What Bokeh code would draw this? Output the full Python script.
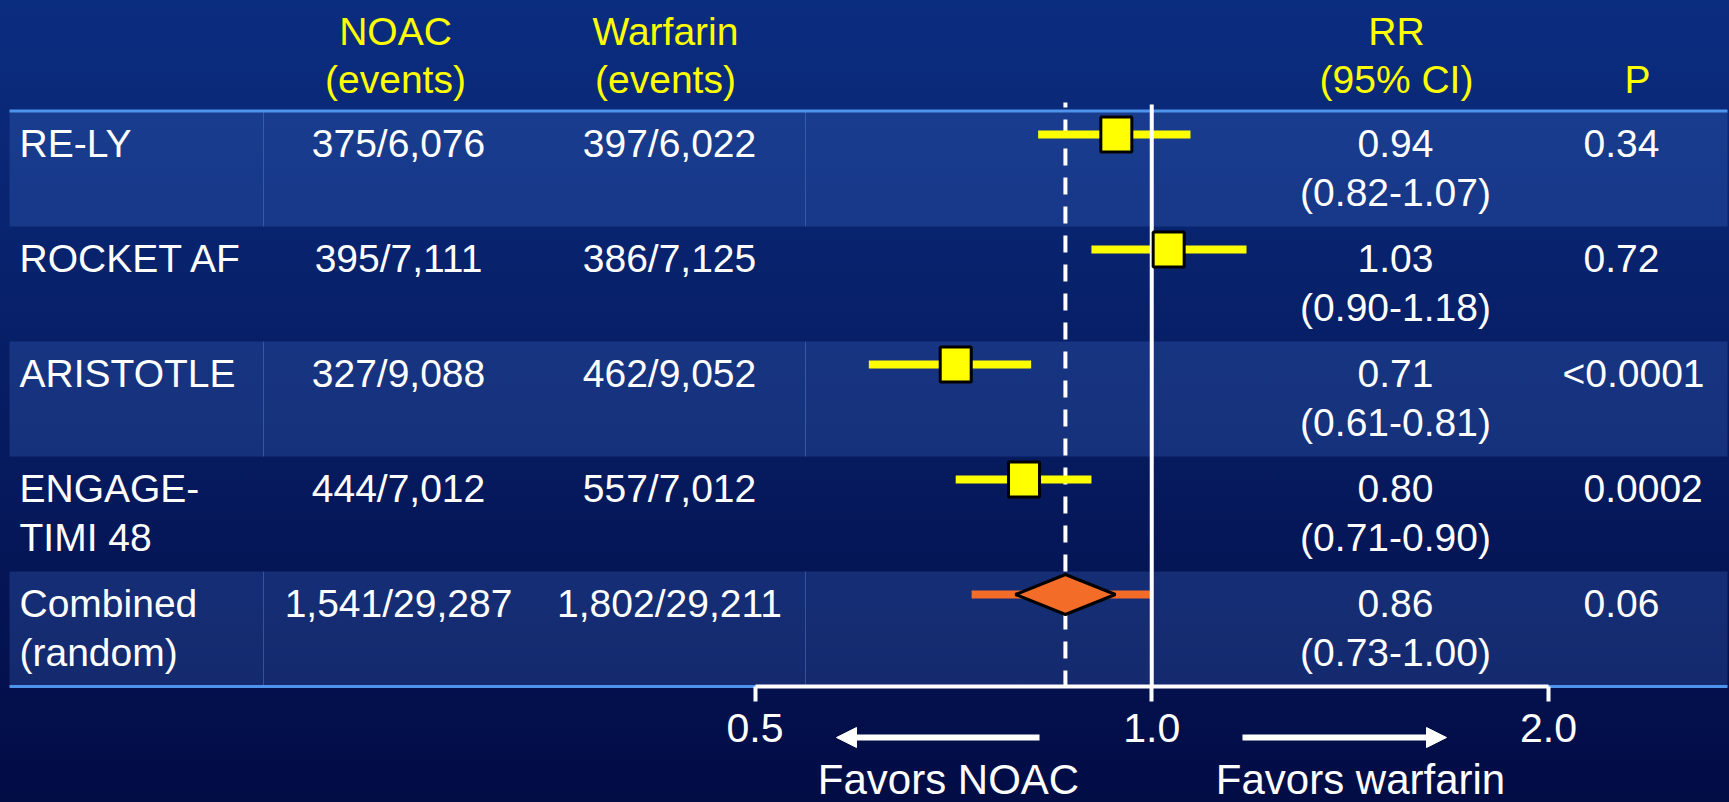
from bokeh.plotting import figure
from bokeh.models import (Range1d, LogScale, LogAxis, FixedTicker,
                          PrintfTickFormatter, Arrow, NormalHead)
from bokeh.core.properties import value
from bokeh.embed import file_html
from bokeh.resources import INLINE

# ---------------- data ----------------
trials = ["RE-LY", "ROCKET AF", "ARISTOTLE", "ENGAGE-\nTIMI 48", "Combined\n(random)"]
noac_events = ["375/6,076", "395/7,111", "327/9,088", "444/7,012", "1,541/29,287"]
warfarin_events = ["397/6,022", "386/7,125", "462/9,052", "557/7,012", "1,802/29,211"]
rr = [0.94, 1.03, 0.71, 0.80, 0.86]
ci_low = [0.82, 0.90, 0.61, 0.71, 0.73]
ci_high = [1.07, 1.18, 0.81, 0.90, 1.00]
p_values = ["0.34", "0.72", "<0.0001", "0.0002", "0.06"]
header_noac = ["NOAC", "(events)"]
header_warf = ["Warfarin", "(events)"]
header_rr = ["RR", "(95% CI)"]
header_p = ["", "P"]
axis_ticks = [0.5, 1.0, 2.0]
direction_labels = ["Favors NOAC", "Favors warfarin"]

# ---------------- layout ----------------
W, H = 1729, 802
FONT = "Liberation Sans"
YELLOW = "#ffff00"
ORANGE = "#f36c28"
LINE_BLUE = "#4f94ec"
X_ONE = 1151.25          # screen x of RR = 1
K = 396.75               # pixels per doubling of RR
ROW_TOP0, ROW_H = 111, 115
LEFT, RIGHT = 9, 1727
COL_LABEL, COL_NOAC, COL_WARF, COL_RR, COL_P = 19, 398, 669, 1395, 1583
LT_W = 21                # width of a leading "<" hanging left of the P column
HDR_NOAC, HDR_WARF, HDR_RR, HDR_P = 395, 665, 1396, 1637
DY = -13                 # baseline correction
HDR_B1, HDR_B2 = 43.5 + DY, 91.5 + DY
TABLE_BOTTOM = ROW_TOP0 + ROW_H * len(trials)

p = figure(width=W, height=H, x_range=Range1d(0, W), y_range=Range1d(H, 0),
           output_backend="svg", toolbar_location=None,
           x_axis_location=None, y_axis_location=None, min_border=0,
           background_fill_color=None, border_fill_color=None,
           outline_line_color=None)
p.grid.visible = False
p.extra_x_ranges = {"rr": Range1d(2 ** (-X_ONE / K), 2 ** ((W - X_ONE) / K))}
p.extra_x_scales = {"rr": LogScale()}

n = len(trials)
tops = [ROW_TOP0 + i * ROW_H for i in range(n)]
light = [i for i in range(n) if i % 2 == 0]

# row bands
p.quad(left=LEFT, right=RIGHT, top=[tops[i] for i in light],
       bottom=[tops[i] + ROW_H for i in light],
       fill_color="#4678d2", fill_alpha=0.25, line_color=None)
for xd in (263, 805):
    p.segment(x0=xd, x1=xd, y0=[tops[i] for i in light],
              y1=[tops[i] + ROW_H for i in light],
              line_color="#5a82cc", line_alpha=0.45, line_width=1)
# horizontal rules
p.segment(x0=LEFT, x1=RIGHT, y0=[ROW_TOP0 - 0.5, TABLE_BOTTOM],
          y1=[ROW_TOP0 - 0.5, TABLE_BOTTOM], line_color=LINE_BLUE, line_width=3)


def txt(xs, ys, texts, color="white", align="center", size="39px"):
    p.text(x=xs, y=ys, text=texts, text_color=color, text_font=value(FONT),
           text_font_size=size, text_align=align, text_baseline="alphabetic")


# headers
for xh, lines in ((HDR_NOAC, header_noac), (HDR_WARF, header_warf),
                  (HDR_RR, header_rr), (HDR_P, header_p)):
    txt([xh, xh], [HDR_B1, HDR_B2], lines, color=YELLOW)

# table body
b1 = [t + 45 + DY for t in tops]
b2 = [t + 94 + DY for t in tops]
line1 = [s.split("\n")[0] for s in trials]
line2 = [s.split("\n")[1] if "\n" in s else "" for s in trials]
txt([COL_LABEL] * n, b1, line1, align="left")
txt([COL_LABEL] * n, b2, line2, align="left")
txt([COL_NOAC] * n, b1, noac_events)
txt([COL_WARF] * n, b1, warfarin_events)
txt([COL_RR] * n, b1, [f"{v:.2f}" for v in rr])
txt([COL_RR] * n, b2, [f"({lo:.2f}-{hi:.2f})" for lo, hi in zip(ci_low, ci_high)])
txt([COL_P - (LT_W if s.startswith("<") else 0) for s in p_values], b1,
    p_values, align="left")

# forest plot
my = [t + 23 for t in tops]
pooled = n - 1
p.segment(x0=[rr[pooled]], x1=[rr[pooled]], y0=[ROW_TOP0 - 9], y1=[TABLE_BOTTOM],
          x_range_name="rr", line_color="white", line_width=4,
          line_dash="17 12", line_dash_offset=12)
colors = [YELLOW] * pooled + [ORANGE]
p.segment(x0=ci_low, x1=ci_high, y0=my, y1=my, x_range_name="rr",
          line_color=colors, line_width=8)
p.segment(x0=[1.0], x1=[1.0], y0=[ROW_TOP0 - 7], y1=[TABLE_BOTTOM],
          x_range_name="rr", line_color="white", line_width=4)
p.rect(x=rr[:pooled], y=my[:pooled], width=31, height=35,
       width_units="screen", height_units="screen", x_range_name="rr",
       fill_color=YELLOW, line_color="black", line_width=3)
hw, hh = 50, 20
d = 2 ** (hw / K)
p.patch(x=[rr[pooled] / d, rr[pooled], rr[pooled] * d, rr[pooled]],
        y=[my[pooled], my[pooled] - hh, my[pooled], my[pooled] + hh],
        x_range_name="rr", fill_color=ORANGE, line_color="black", line_width=3)

# axis
ax = LogAxis(x_range_name="rr", fixed_location=TABLE_BOTTOM, bounds=(0.5, 2.0),
             ticker=FixedTicker(ticks=axis_ticks, minor_ticks=[]),
             formatter=PrintfTickFormatter(format="%.1f"))
ax.axis_line_color = "white"
ax.axis_line_width = 4
ax.major_tick_line_color = "white"
ax.major_tick_line_width = 4
ax.major_tick_out = 15
ax.major_tick_in = 0
ax.minor_tick_line_color = None
ax.major_label_text_color = "white"
ax.major_label_text_font = FONT
ax.major_label_text_font_size = "41px"
ax.major_label_standoff = 12
p.add_layout(ax, "below")

# direction arrows and labels
for xs, xe in ((1039, 836), (1242, 1446)):
    p.add_layout(Arrow(end=NormalHead(size=20, fill_color="white", line_color="white"),
                       x_start=xs, y_start=737, x_end=xe, y_end=737,
                       line_color="white", line_width=6))
txt([948, 1360], [792 + DY, 792 + DY], direction_labels, size="42px")

html = file_html(p, INLINE, title="NOAC vs warfarin")
style = ("<style>html,body{margin:0;padding:0;overflow:hidden;}"
         "html{min-height:100%;background:linear-gradient(180deg,#0b2d80 0%,#020c45 100%);}"
         "</style>")
html = html.replace("</head>", style + "</head>", 1)
open("out.html", "w").write(html)
